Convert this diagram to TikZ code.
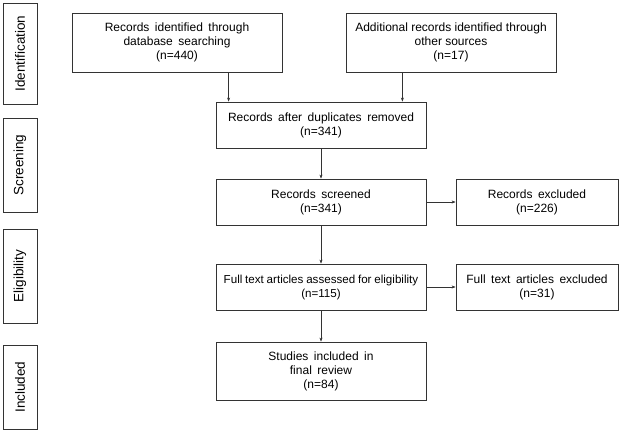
\documentclass[tikz,border=0pt]{standalone}
\usepackage{fontspec}
\setmainfont{Liberation Sans}
\usepackage{tikz}
\usetikzlibrary{shapes,positioning,calc,arrows.meta}
\newcommand{\boxfont}{\fontsize{12}{14}\selectfont\spaceskip=5.5pt plus 1pt\relax}
\newcommand{\tightfont}{\fontsize{11.6}{14}\selectfont\spaceskip=2.8pt\relax}

\begin{document}
\begin{tikzpicture}[x=1pt,y=1pt,->,>={Stealth[length=4pt,width=3pt]},every node/.append style={font=\boxfont}]
    \tikzstyle{main}=[rectangle, draw=black!80, line width=0.8pt, align=center, minimum height=46pt, minimum width=210pt, inner sep=2pt]
    \tikzstyle{side}=[main, minimum width=162pt]
    \tikzstyle{phase}=[rectangle, draw=black!80, line width=0.8pt, rotate=90, minimum height=34pt, inner sep=1pt, font=\fontsize{13.5}{14}\selectfont]
    \tikzstyle{link}=[draw=black!80, line width=0.6pt]
    \useasboundingbox (0,0) rectangle (621,-432);
    % phases on the left
    \foreach \name/\y/\h/\word in {p1/-53.5/101/{Identification},p2/-165/94/{Screening},p3/-276/94/{Eligibility},p4/-387/84/{Included}} {
        \node[phase, minimum width=\h pt] (\name) at (20,\y) {\word};
    }
    \node[main, minimum height=59pt] (db) at (177,-42.5) {Records identified through\\database searching\\(n=440)};
    \node[main, minimum height=59pt, font=\fontsize{12}{14}\selectfont] (other) at (451,-42.5) {Additional records identified through\\other sources\\(n=17)};
    \node[main] (dup) at (321,-125) {Records after duplicates removed\\(n=341)};
    \node[main] (scr) at (321,-202) {Records screened\\(n=341)};
    \node[side] (exc) at (537,-202) {Records excluded\\(n=226)};
    \node[main, font=\tightfont] (full) at (321,-287) {Full text articles assessed for eligibility\\(n=115)};
    \node[side] (fexc) at (537,-287) {Full text articles excluded\\(n=31)};
    \node[main, minimum height=58pt] (inc) at (321,-371) {Studies included in\\final review\\(n=84)};
    \coordinate (in1) at ([xshift=13pt]dup.north west);
    \coordinate (in2) at ([xshift=-24pt]dup.north east);
    \draw[link] (in1 |- db.south) -- (in1);
    \draw[link] (in2 |- other.south) -- (in2);
    \foreach \current/\next in {dup/scr,scr/full,full/inc} {
        \draw[link] (\current) -- (\next);
    }
    \draw[link] (scr) -- (exc);
    \draw[link] (full) -- (fexc);
\end{tikzpicture}
\end{document}
